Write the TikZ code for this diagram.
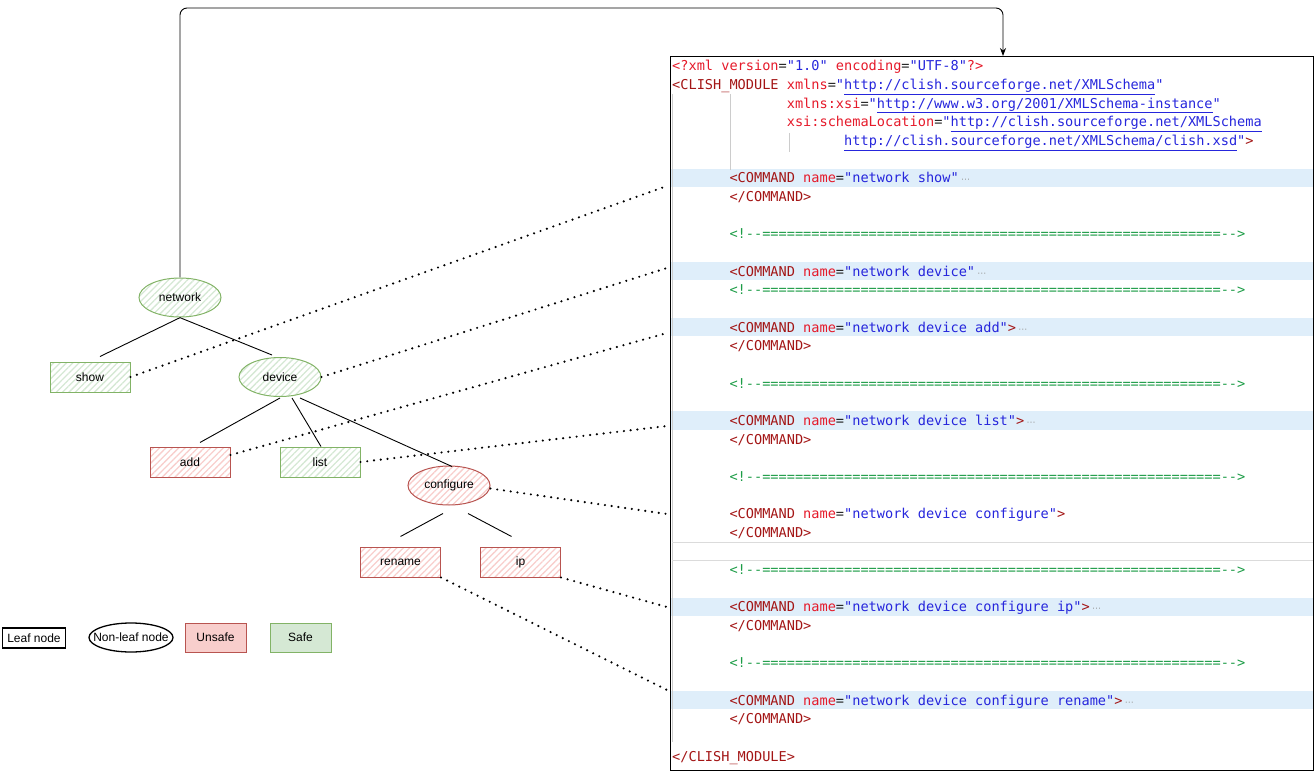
\documentclass[tikz,border=0pt]{standalone}
\usepackage{fontspec}
\setmainfont{Liberation Sans}
\setmonofont{DejaVu Sans Mono}
\newfontfamily\symbolfont{DejaVu Sans}
\usetikzlibrary{shapes.geometric,arrows.meta,patterns.meta}

\definecolor{safeline}{HTML}{82B366}
\definecolor{safefill}{HTML}{D5E8D4}
\definecolor{unsafeline}{HTML}{B85450}
\definecolor{unsafefill}{HTML}{F8CECC}
\definecolor{xtagc}{HTML}{A31515}
\definecolor{xattc}{HTML}{E51A2A}
\definecolor{xstrc}{HTML}{2626DC}
\definecolor{xeqc}{HTML}{202020}
\definecolor{xcomc}{HTML}{1C9C46}
\definecolor{hlband}{HTML}{DFEEFA}
\definecolor{guide}{HTML}{CCCCCC}

% syntax colouring helpers for the XML listing
\newcommand\xtag[1]{\textcolor{xtagc}{#1}}
\newcommand\xatt[1]{\textcolor{xattc}{#1}}
\newcommand\xstr[1]{\textcolor{xstrc}{#1}}
\newcommand\xurl[1]{\textcolor{xstrc}{\underline{#1}}}
\newcommand\xeq{\textcolor{xeqc}{=}}
\newcommand\xfold{\textcolor{gray!80}{\,{\symbolfont\fontsize{9}{9}\selectfont ⋯}}}
\newcommand\xcom{\textcolor{xcomc}{<!--========================================================-->}}
\newcommand\xcmd[2]{\xtag{<COMMAND} \xatt{name}\xeq\xstr{"network #1"}#2}
\newcommand\xend{\xtag{</COMMAND>}}
% one listing line: index, column, content
\newcommand\codeline[3]{\node[codeln] (code#1) at ({672+#2*8.19},{71+18.65*#1}) {#3};}

\begin{document}
\begin{tikzpicture}[x=1pt,y=-1pt,
  tnode/.style={font=\fontsize{12}{14}\selectfont, text=black, line width=1pt},
  leafbox/.style={tnode, rectangle, minimum width=80, minimum height=30, inner sep=0},
  innerell/.style={tnode, ellipse, minimum width=82, minimum height=39, inner sep=0},
  safe/.style={draw=safeline, pattern={Lines[angle=45,distance=4.5pt,line width=1.3pt]}, pattern color=safefill},
  unsafe/.style={draw=unsafeline, pattern={Lines[angle=45,distance=4.5pt,line width=1.3pt]}, pattern color=unsafefill},
  branch/.style={line width=0.9pt, black},
  dotlink/.style={line width=2.4pt, line cap=round, dash pattern=on 0pt off 6.8pt},
  flow/.style={line width=0.9pt, rounded corners=7, -{Stealth[length=8pt,width=6pt]}},
  codeln/.style={anchor=base west, inner sep=0, font=\ttfamily\fontsize{13.6}{16}\selectfont},
  legend/.style={font=\fontsize{12}{14}\selectfont, inner sep=0}]
\useasboundingbox (0,0) rectangle (1314,773);

% ---------- listing panel ----------
\foreach \i in {6,11,14,19,29,34}
  \fill[hlband] (671,{66+18.65*\i-9.3}) rectangle (1312.5,{66+18.65*\i+9.3});
\draw[guide, line width=0.8pt] (672.5,94) -- (672.5,742);
\draw[guide, line width=0.8pt] (730,94) -- (730,170);
\draw[guide, line width=0.8pt] (789,133) -- (789,152);
\draw[guide!70, line width=0.8pt] (672,542) -- (1313,542);
\draw[guide!70, line width=0.8pt] (672,560) -- (1313,560);
\node[draw, line width=1pt, anchor=north west, minimum width=643, minimum height=714, inner sep=0] (panel) at (670,56) {};

\codeline{0}{0}{\xatt{<?xml} \xatt{version}\xeq\xstr{"1.0"} \xatt{encoding}\xeq\xstr{"UTF-8"}\xatt{?>}}
\codeline{1}{0}{\xtag{<CLISH\_MODULE} \xatt{xmlns}\xeq\xstr{"}\xurl{http://clish.sourceforge.net/XMLSchema}\xstr{"}}
\codeline{2}{14}{\xatt{xmlns:xsi}\xeq\xstr{"}\xurl{http://www.w3.org/2001/XMLSchema-instance}\xstr{"}}
\codeline{3}{14}{\xatt{xsi:schemaLocation}\xeq\xstr{"}\xurl{http://clish.sourceforge.net/XMLSchema}}
\codeline{4}{21}{\xurl{http://clish.sourceforge.net/XMLSchema/clish.xsd}\xstr{"}\xtag{>}}
\codeline{6}{7}{\xcmd{show}{\xfold}}
\codeline{7}{7}{\xend}
\codeline{9}{7}{\xcom}
\codeline{11}{7}{\xcmd{device}{\xfold}}
\codeline{12}{7}{\xcom}
\codeline{14}{7}{\xcmd{device add}{\xtag{>}\xfold}}
\codeline{15}{7}{\xend}
\codeline{17}{7}{\xcom}
\codeline{19}{7}{\xcmd{device list}{\xtag{>}\xfold}}
\codeline{20}{7}{\xend}
\codeline{22}{7}{\xcom}
\codeline{24}{7}{\xcmd{device configure}{\xtag{>}}}
\codeline{25}{7}{\xend}
\codeline{27}{7}{\xcom}
\codeline{29}{7}{\xcmd{device configure ip}{\xtag{>}\xfold}}
\codeline{30}{7}{\xend}
\codeline{32}{7}{\xcom}
\codeline{34}{7}{\xcmd{device configure rename}{\xtag{>}\xfold}}
\codeline{35}{7}{\xend}
\codeline{37}{0}{\xtag{</CLISH\_MODULE>}}

% ---------- command tree ----------
\node[innerell, safe]   (network)   at (180,297.5) {network};
\node[leafbox, safe]    (show)      at (90,377)    {show};
\node[innerell, safe]   (device)    at (280,377)   {device};
\node[leafbox, unsafe]  (add)       at (190,462)   {add};
\node[leafbox, safe]    (list)      at (320,462)   {list};
\node[innerell, unsafe] (configure) at (449,485.5) {configure};
\node[leafbox, unsafe]  (rename)    at (400.5,562) {rename};
\node[leafbox, unsafe]  (ip)        at (520.5,562) {ip};

\draw[branch] (network.south) -- ([xshift=10pt,yshift=5pt]show.north);
\draw[branch] (network.south) -- ([xshift=-8pt,yshift=2pt]device.north);
\draw[branch] ([yshift=-1pt]device.south) -- ([xshift=10pt,yshift=4pt]add.north);
\draw[branch] ([xshift=12pt,yshift=-1pt]device.south) -- ([xshift=1pt]list.north);
\draw[branch] ([xshift=20pt,yshift=-1pt]device.south) -- ([xshift=3pt,yshift=-1pt]configure.north);
\draw[branch] ([xshift=-6pt,yshift=-8pt]configure.south) -- ([yshift=10pt]rename.north);
\draw[branch] ([xshift=19pt,yshift=-8pt]configure.south) -- ([xshift=-9pt,yshift=10pt]ip.north);

% ---------- links from tree nodes to their COMMAND entries ----------
\coordinate (atShow)      at (667,186);
\coordinate (atDevice)    at (667,268);
\coordinate (atAdd)       at (667,333);
\coordinate (atList)      at (667,426);
\coordinate (atConfigure) at (667,514);
\coordinate (atIp)        at (667,607);
\coordinate (atRename)    at (667,690);
\draw[dotlink] (show.east) -- (atShow);
\draw[dotlink] (device.east) -- (atDevice);
\draw[dotlink] ([yshift=7pt]add.east) -- (atAdd);
\draw[dotlink] (list.east) -- (atList);
\draw[dotlink] ([yshift=-3pt]configure.east) -- (atConfigure);
\draw[dotlink] (ip.south east) -- (atIp);
\draw[dotlink] (rename.south east) -- (atRename);

% ---------- root to module ----------
\coordinate (bend) at (1003,8);
\draw[flow] (network.north) |- (bend) -- (bend |- panel.north);

% ---------- legend ----------
\node[legend, draw, line width=1.3pt, minimum width=63, minimum height=20] (legLeaf) at (34,638) {Leaf node};
\node[draw, ellipse, line width=1.3pt, minimum width=84, minimum height=29, inner sep=0] (legNonleaf) at (131,637.5) {};
\node[legend] (legNonleafText) at (legNonleaf.center) {Non-leaf node};
\node[legend, draw=unsafeline, fill=unsafefill, line width=1pt, minimum width=61, minimum height=29] (legUnsafe) at (215.5,637.5) {Unsafe};
\node[legend, draw=safeline, fill=safefill, line width=1pt, minimum width=61, minimum height=29] (legSafe) at (300.5,637.5) {Safe};
\end{tikzpicture}
\end{document}
